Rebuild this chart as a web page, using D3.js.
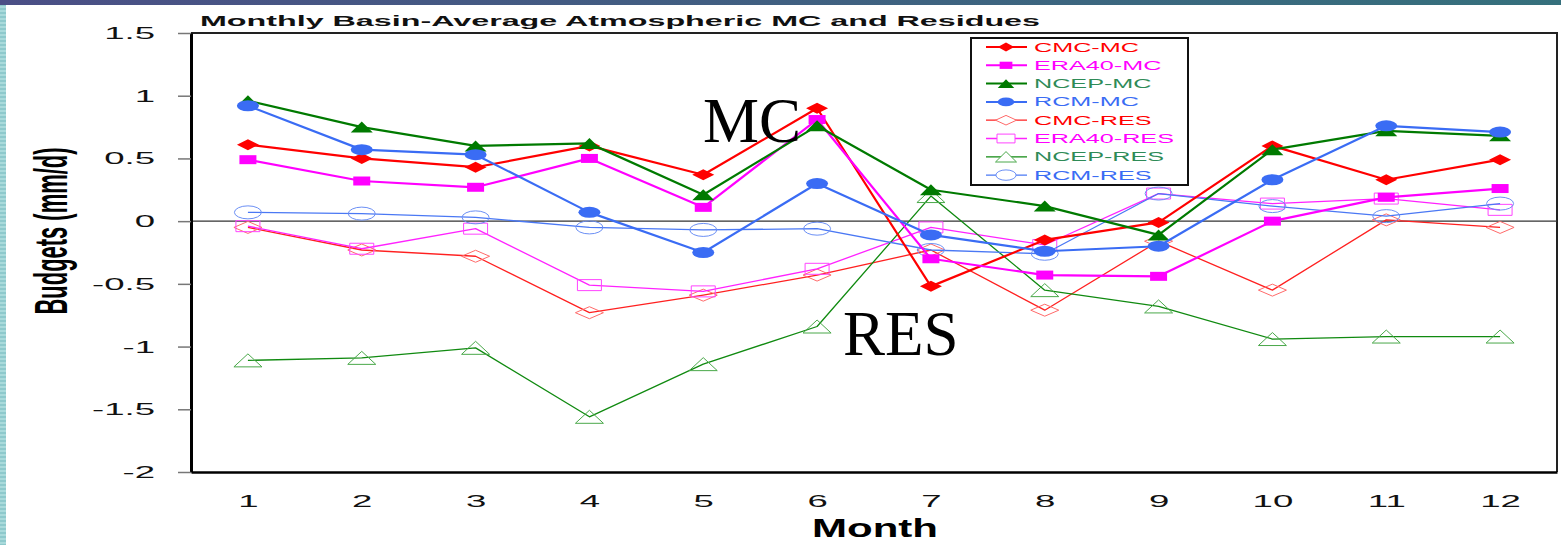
<!DOCTYPE html>
<html lang="en">
<head>
    <meta charset="UTF-8">
    <title>Monthly Basin-Average Atmospheric MC and Residues</title>
    <style>
        body{
            margin: 0;
            background: #fff;
            font-family: "Liberation Sans", Arial, sans-serif;
        }
        svg{
            display: block;
        }
    </style>
    <script src="https://d3js.org/d3.v7.min.js"></script>
</head>
<body>
<svg id="chart" width="1561" height="545"></svg>

<script>
    // values (mm/d)
    const months = [1, 2, 3, 4, 5, 6, 7, 8, 9, 10, 11, 12];
    const yTicks = [-2, -1.5, -1, -0.5, 0, 0.5, 1, 1.5];

    const cmcMC    = [0.61, 0.50, 0.43, 0.60, 0.37, 0.90, -0.52, -0.15, -0.01, 0.60, 0.33, 0.49];
    const era40MC  = [0.49, 0.32, 0.27, 0.50, 0.11, 0.81, -0.30, -0.43, -0.44, 0.00, 0.19, 0.26];
    const ncepMC   = [0.96, 0.75, 0.60, 0.62, 0.21, 0.76, 0.25, 0.12, -0.11, 0.57, 0.72, 0.68];
    const rcmMC    = [0.92, 0.57, 0.53, 0.07, -0.25, 0.30, -0.11, -0.24, -0.20, 0.33, 0.76, 0.71];
    const cmcRES   = [-0.05, -0.23, -0.28, -0.73, -0.59, -0.43, -0.23, -0.71, -0.16, -0.55, 0.01, -0.05];
    const era40RES = [-0.04, -0.22, -0.06, -0.51, -0.56, -0.38, -0.05, -0.19, 0.22, 0.14, 0.18, 0.09];
    const ncepRES  = [-1.11, -1.09, -1.01, -1.56, -1.14, -0.84, 0.20, -0.55, -0.68, -0.94, -0.92, -0.92];
    const rcmRES   = [0.07, 0.06, 0.03, -0.05, -0.07, -0.06, -0.23, -0.26, 0.22, 0.12, 0.04, 0.14];

    const seriesNames = ["CMC-MC", "ERA40-MC", "NCEP-MC", "RCM-MC", "CMC-RES", "ERA40-RES", "NCEP-RES", "RCM-RES"];
    const seriesValues = [cmcMC, era40MC, ncepMC, rcmMC, cmcRES, era40RES, ncepRES, rcmRES];

    // look of each series
    const styles = {
        "CMC-MC":    {line: "#ff0000", text: "#ff0000", shape: "diamond",  fill: true,  lw: 2.2},
        "ERA40-MC":  {line: "#ff00ff", text: "#ff00ff", shape: "square",   fill: true,  lw: 2.2},
        "NCEP-MC":   {line: "#007a00", text: "#2e8b57", shape: "triangle", fill: true,  lw: 2.2},
        "RCM-MC":    {line: "#3a6cf4", text: "#3a6cf4", shape: "circle",   fill: true,  lw: 2.2},
        "CMC-RES":   {line: "#ff2020", text: "#ff0000", shape: "diamond",  fill: false, lw: 1.3, mk: "#ff6a6a"},
        "ERA40-RES": {line: "#ff22ff", text: "#ff00ff", shape: "square",   fill: false, lw: 1.3, mk: "#ff44ff"},
        "NCEP-RES":  {line: "#108a10", text: "#2e8b57", shape: "triangle", fill: false, lw: 1.3, mk: "#4aa84a"},
        "RCM-RES":   {line: "#4a78f4", text: "#3a6cf4", shape: "circle",   fill: false, lw: 1.3, mk: "#6b8ff5"}
    };
    const markerSize = {
        diamond:  {fill: [22, 11], open: [28, 12]},
        square:   {fill: [17, 9],  open: [24, 11]},
        triangle: {fill: [22, 11], open: [28, 13]},
        circle:   {fill: [22, 11], open: [27, 13]}
    };

    function markerPath(shape, w, h) {
        const a = w / 2, b = h / 2;
        if (shape === "diamond") return `M0,${-b}L${a},0L0,${b}L${-a},0Z`;
        if (shape === "square") return `M${-a},${-b}H${a}V${b}H${-a}Z`;
        if (shape === "triangle") return `M0,${-b}L${a},${b}L${-a},${b}Z`;
        return `M${-a},0A${a},${b} 0 1 0 ${a},0A${a},${b} 0 1 0 ${-a},0Z`;
    }

    // the original picture is stretched sideways, so the small texts are widened
    const SX = 2.15;

    // put a text node inside a <g> that carries the stretch
    function wrapStretch(textSel, dx, k) {
        textSel.each(function () {
            const parent = this.parentNode;
            const g = d3.select(parent).append("g")
                .attr("transform", `translate(${dx},0) scale(${k},1)`);
            d3.select(this).attr("x", 0);
            g.node().appendChild(this);
        });
    }

    const svg = d3.select("#chart");

    // slide frame: dark top bar and striped left edge
    const defs = svg.append("defs");
    const grad = defs.append("linearGradient").attr("id", "topbar");
    grad.append("stop").attr("offset", "0%").attr("stop-color", "#4b4f86");
    grad.append("stop").attr("offset", "100%").attr("stop-color", "#35707c");
    const pat = defs.append("pattern").attr("id", "stripes")
        .attr("width", 6).attr("height", 4).attr("patternUnits", "userSpaceOnUse");
    pat.append("rect").attr("width", 6).attr("height", 4).attr("fill", "#a9dadb");
    pat.append("rect").attr("width", 6).attr("height", 2).attr("fill", "#8ec9cc");
    svg.append("rect").attr("x", 0).attr("y", 0).attr("width", 6).attr("height", 545).attr("fill", "url(#stripes)");
    svg.append("rect").attr("x", 0).attr("y", 0).attr("width", 1561).attr("height", 5).attr("fill", "url(#topbar)");

    const x = d3.scaleLinear().domain([0.5, 12.5]).range([191, 1557]);
    const y = d3.scaleLinear().domain([-2, 1.5]).range([472, 33]);

    // frame top and right
    svg.append("path")
        .attr("d", `M${x(0.5)},${y(1.5)}H${x(12.5)}V${y(-2)}`)
        .attr("fill", "none").attr("stroke", "#222").attr("stroke-width", 2);

    // zero line
    svg.append("line")
        .attr("x1", x(0.5)).attr("x2", x(12.5)).attr("y1", y(0)).attr("y2", y(0))
        .attr("stroke", "#333").attr("stroke-width", 1.4);

    // y axis
    const yAxis = svg.append("g")
        .attr("transform", `translate(${x(0.5)},0)`)
        .call(d3.axisLeft(y).tickValues(yTicks).tickFormat(d => String(d)).tickSize(13).tickSizeOuter(0).tickPadding(23));
    yAxis.select(".domain").attr("stroke", "#000").attr("stroke-width", 3);
    yAxis.selectAll(".tick line").attr("stroke", "#777").attr("stroke-width", 1.5);
    yAxis.selectAll(".tick text")
        .attr("font-family", "'Liberation Sans', Arial, sans-serif")
        .attr("font-size", 17).attr("fill", "#111")
        .call(wrapStretch, -36, SX);

    // x axis
    const xAxis = svg.append("g")
        .attr("transform", `translate(0,${y(-2)})`)
        .call(d3.axisBottom(x).tickValues(months).tickSize(0).tickSizeOuter(0).tickPadding(23));
    xAxis.select(".domain").attr("stroke", "#000").attr("stroke-width", 2.6);
    xAxis.selectAll(".tick text")
        .attr("font-family", "'Liberation Sans', Arial, sans-serif")
        .attr("font-size", 17).attr("fill", "#111")
        .call(wrapStretch, 0, SX);

    // series: residues below, moisture convergence on top
    const order = [4, 5, 6, 7, 0, 1, 2, 3];
    const line = d3.line().x((d, i) => x(months[i])).y(d => y(d));

    order.forEach(k => {
        const name = seriesNames[k];
        const st = styles[name];
        const g = svg.append("g");
        g.append("path")
            .datum(seriesValues[k])
            .attr("d", line)
            .attr("fill", "none")
            .attr("stroke", st.line)
            .attr("stroke-width", st.lw)
            .attr("stroke-linejoin", "round");
        const size = st.fill ? markerSize[st.shape].fill : markerSize[st.shape].open;
        g.selectAll("path.mark")
            .data(seriesValues[k])
            .enter()
            .append("path")
            .attr("class", "mark")
            .attr("transform", (d, i) => `translate(${x(months[i])},${y(d)})`)
            .attr("d", markerPath(st.shape, size[0], size[1]))
            .attr("fill", st.fill ? st.line : "none")
            .attr("stroke", st.fill ? "none" : st.mk)
            .attr("stroke-width", 1);
    });

    // big annotations
    svg.append("text").attr("x", 703).attr("y", 142)
        .attr("font-family", "'Liberation Serif', 'Times New Roman', serif")
        .attr("font-size", 63).attr("fill", "#000").text("MC");
    svg.append("text").attr("x", 843).attr("y", 355)
        .attr("font-family", "'Liberation Serif', 'Times New Roman', serif")
        .attr("font-size", 63).attr("fill", "#000").text("RES");

    // legend
    const legend = svg.append("g");
    legend.append("rect")
        .attr("x", 971).attr("y", 38).attr("width", 217).attr("height", 147)
        .attr("fill", "#fff").attr("stroke", "#111").attr("stroke-width", 2);
    seriesNames.forEach((name, i) => {
        const st = styles[name];
        const ly = 47 + i * 18.3;
        legend.append("line")
            .attr("x1", 986).attr("x2", 1027).attr("y1", ly).attr("y2", ly)
            .attr("stroke", st.line).attr("stroke-width", st.fill ? 2 : 1.3);
        const size = st.fill ? markerSize[st.shape].fill : markerSize[st.shape].open;
        legend.append("path")
            .attr("transform", `translate(1006,${ly})`)
            .attr("d", markerPath(st.shape, size[0] * 0.75, size[1] * 0.8))
            .attr("fill", st.fill ? st.line : "#fff")
            .attr("stroke", st.fill ? "none" : st.mk)
            .attr("stroke-width", 1);
        legend.append("g")
            .attr("transform", `translate(1034,${ly + 4.5}) scale(2.1,1)`)
            .append("text")
            .attr("font-size", 12).attr("fill", st.text)
            .text(name);
    });

    // titles
    svg.append("text")
        .attr("x", 200).attr("y", 26)
        .attr("font-size", 15).attr("font-weight", "bold").attr("fill", "#111")
        .attr("textLength", 840).attr("lengthAdjust", "spacingAndGlyphs")
        .text("Monthly Basin-Average Atmospheric MC and Residues");

    svg.append("text")
        .attr("x", 875).attr("y", 537)
        .attr("text-anchor", "middle")
        .attr("font-size", 25).attr("font-weight", "bold").attr("fill", "#000")
        .attr("textLength", 126).attr("lengthAdjust", "spacingAndGlyphs")
        .text("Month");

    svg.append("g")
        .attr("transform", "translate(67,231) scale(2.1,1)")
        .append("text")
        .attr("transform", "rotate(-90)")
        .attr("text-anchor", "middle")
        .attr("font-size", 22).attr("font-weight", "bold").attr("fill", "#000")
        .attr("textLength", 167).attr("lengthAdjust", "spacingAndGlyphs")
        .text("Budgets (mm/d)");
</script>
</body>
</html>
